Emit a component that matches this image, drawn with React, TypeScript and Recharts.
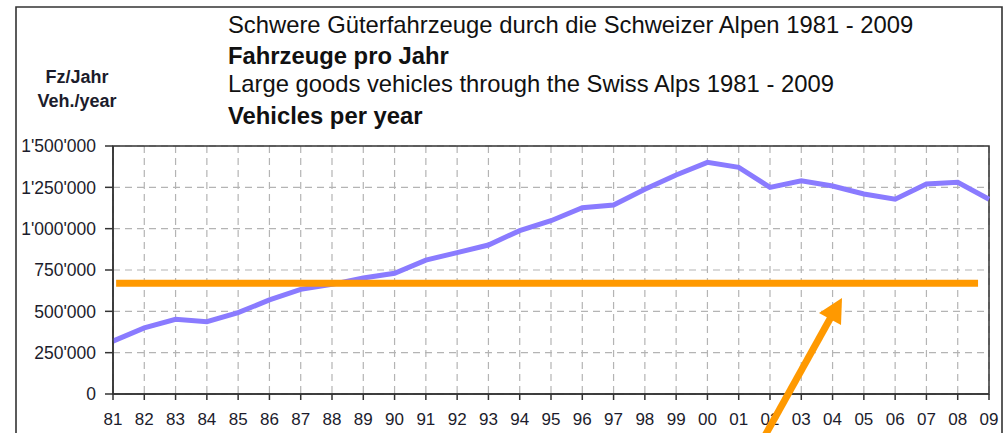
import {
  LineChart,
  Line,
  XAxis,
  YAxis,
  CartesianGrid,
  ReferenceLine,
  ReferenceArea,
} from 'recharts'

const years = [
  1981, 1982, 1983, 1984, 1985, 1986, 1987, 1988, 1989, 1990, 1991, 1992, 1993, 1994, 1995,
  1996, 1997, 1998, 1999, 2000, 2001, 2002, 2003, 2004, 2005, 2006, 2007, 2008, 2009,
]
const vehicles = [
  320000, 400000, 452000, 437000, 492000, 569000, 633000, 663000, 702000, 730000, 810000,
  855000, 901000, 988000, 1048000, 1127000, 1143000, 1238000, 1325000, 1401000, 1371000,
  1250000, 1290000, 1258000, 1210000, 1178000, 1270000, 1280000, 1178000,
]
const yTicks = [0, 250000, 500000, 750000, 1000000, 1250000, 1500000]

// Verlagerungsziel (orange bar)
const targetValue = 670000
const targetFrom = 1981.1
const targetTo = 2008.65

const titleLines = [
  { text: 'Schwere Güterfahrzeuge durch die Schweizer Alpen 1981 - 2009', bold: false },
  { text: 'Fahrzeuge pro Jahr', bold: true },
  { text: 'Large goods vehicles through the Swiss Alps 1981 - 2009', bold: false },
  { text: 'Vehicles per year', bold: true },
]
const unitLines = ['Fz/Jahr', 'Veh./year']

const data = years.map((year, i) => ({ year, vehicles: vehicles[i] }))

const FONT = '"Liberation Sans", Arial, sans-serif'
const ORANGE = '#ff9900'

function formatThousands(v: number) {
  return String(v).replace(/\B(?=(\d{3})+(?!\d))/g, "'")
}

function formatYear(v: number) {
  return String(v % 100).padStart(2, '0')
}

export default function App() {
  const titleY = [33, 64, 92, 124]
  return (
    <div
      style={{
        position: 'fixed',
        left: 0,
        top: 0,
        width: 1005,
        height: 433,
        background: '#fff',
        fontFamily: FONT,
      }}
    >
      <LineChart
        width={1005}
        height={433}
        data={data}
        margin={{ top: 146, right: 16, left: 0, bottom: 9 }}
      >
        <CartesianGrid stroke="#b4b4b4" strokeDasharray="7 5" strokeWidth={1.2} />
        <XAxis
          dataKey="year"
          type="number"
          domain={[1981, 2009]}
          ticks={years}
          interval={0}
          tickFormatter={formatYear}
          height={30}
          tickSize={6}
          tickMargin={13}
          axisLine={{ stroke: '#333', strokeWidth: 1.5 }}
          tickLine={{ stroke: '#333', strokeWidth: 1.5 }}
          tick={{ fontSize: 17, fill: '#1c1c2c', fontFamily: FONT }}
        />
        <YAxis
          type="number"
          domain={[0, 1500000]}
          ticks={yTicks}
          interval={0}
          tickFormatter={formatThousands}
          width={113}
          tickSize={8}
          tickMargin={9}
          axisLine={{ stroke: '#333', strokeWidth: 1.5 }}
          tickLine={{ stroke: '#333', strokeWidth: 1.5 }}
          tick={{ fontSize: 17.5, fill: '#1c1c2c', fontFamily: FONT }}
        />
        <ReferenceArea
          x1={1981}
          x2={2009}
          y1={0}
          y2={1500000}
          fill="none"
          stroke="#333"
          strokeWidth={1.5}
        />
        <Line
          dataKey="vehicles"
          type="linear"
          stroke="#8a7bff"
          strokeWidth={5}
          dot={false}
          isAnimationActive={false}
        />
        <ReferenceLine
          segment={[
            { x: targetFrom, y: targetValue },
            { x: targetTo, y: targetValue },
          ]}
          stroke={ORANGE}
          strokeWidth={7}
        />
      </LineChart>

      <svg
        width={1005}
        height={433}
        style={{ position: 'absolute', left: 0, top: 0, pointerEvents: 'none' }}
      >
        {/* outer frame */}
        <polyline
          points="16,440 16,7 1002,7 1002,440"
          fill="none"
          stroke="#333"
          strokeWidth={1.6}
        />
        {titleLines.map((l, i) => (
          <text
            key={l.text}
            x={228}
            y={titleY[i]}
            fontFamily={FONT}
            fontSize={23.8}
            fontWeight={l.bold ? 700 : 400}
            fill="#111"
          >
            {l.text}
          </text>
        ))}
        {unitLines.map((t, i) => (
          <text
            key={t}
            x={77}
            y={83 + i * 24}
            textAnchor="middle"
            fontFamily={FONT}
            fontSize={18}
            fontWeight={700}
            fill="#1c1c2c"
          >
            {t}
          </text>
        ))}
        {/* annotation arrow */}
        <line x1={757} y1={450} x2={831} y2={317} stroke={ORANGE} strokeWidth={7} />
        <polygon points="842,298 819,313 841,325" fill={ORANGE} />
      </svg>
    </div>
  )
}
